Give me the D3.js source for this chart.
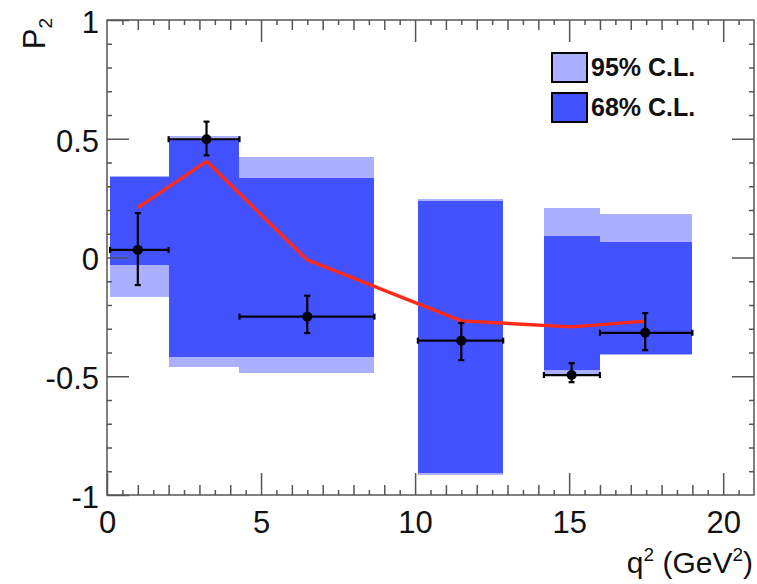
<!DOCTYPE html>
<html>
<head>
<meta charset="utf-8">
<script src="https://cdn.jsdelivr.net/npm/d3@7/dist/d3.min.js"></script>
<style>
  html, body { margin: 0; padding: 0; background: #fff; }
  svg { display: block; }
  .tick text { font-family: "Liberation Sans", Arial, sans-serif; }
</style>
</head>
<body>
<svg id="chart" width="757" height="584"></svg>
<script>
// q^2 bins (GeV^2)
const binLo = [0.1, 2.0, 4.3, 10.09, 14.18, 16.0];
const binHi = [2.0, 4.3, 8.68, 12.86, 16.0, 19.0];

// Confidence-level intervals on P2 per bin
const cl95Lo = [-0.165, -0.46, -0.488, -0.915, -0.495, -0.412];
const cl95Hi = [0.345, 0.51, 0.425, 0.245, 0.21, 0.183];
const cl68Lo = [-0.032, -0.42, -0.42, -0.908, -0.474, -0.405];
const cl68Hi = [0.34, 0.50, 0.335, 0.238, 0.09, 0.065];

// Measured points: mean q^2, central value and error-bar ends
const ptX = [1.0, 3.23, 6.5, 11.5, 15.08, 17.47];
const ptY = [0.032, 0.498, -0.249, -0.35, -0.495, -0.317];
const ptYHi = [0.187, 0.572, -0.161, -0.276, -0.445, -0.234];
const ptYLo = [-0.116, 0.43, -0.318, -0.432, -0.525, -0.39];

// Prediction curve evaluated at the point positions
const curveY = [0.21, 0.405, -0.01, -0.267, -0.292, -0.268];

// Axis ticks
const xMajor = [0, 5, 10, 15, 20];
const yMajor = [-1, -0.5, 0, 0.5, 1];
const yLabels = ["-1", "-0.5", "0", "0.5", "1"];

const legendItems = ["95% C.L.", "68% C.L."];

const dark = "#4352ff";
const light = "#aaafff";

const svg = d3.select("#chart");
const x = d3.scaleLinear().domain([0, 21]).range([107, 754]);
const y = d3.scaleLinear().domain([-1, 1]).range([495, 20]);

const bins = binLo.map((lo, i) => ({lo, hi: binHi[i],
  a95: cl95Lo[i], b95: cl95Hi[i], a68: cl68Lo[i], b68: cl68Hi[i]}));

// 95% bands then 68% bands on top
svg.append("g").attr("shape-rendering", "crispEdges").selectAll("rect").data(bins).join("rect")
  .attr("x", d => x(d.lo)).attr("width", d => x(d.hi) - x(d.lo))
  .attr("y", d => y(d.b95)).attr("height", d => y(d.a95) - y(d.b95))
  .attr("fill", light);
svg.append("g").attr("shape-rendering", "crispEdges").selectAll("rect").data(bins).join("rect")
  .attr("x", d => x(d.lo)).attr("width", d => x(d.hi) - x(d.lo))
  .attr("y", d => y(d.b68)).attr("height", d => y(d.a68) - y(d.b68))
  .attr("fill", dark);

// Prediction line
svg.append("path")
  .datum(ptX.map((v, i) => [v, curveY[i]]))
  .attr("fill", "none").attr("stroke", "#ff2a1a").attr("stroke-width", 3.4)
  .attr("stroke-linejoin", "round")
  .attr("d", d3.line().x(d => x(d[0])).y(d => y(d[1])));

// Axes: frame ticks on all four sides
const tickColor = "#555";
function styleAxis(g) {
  g.selectAll(".domain").remove();
  g.selectAll(".tick line").attr("stroke", tickColor).attr("stroke-width", 1.5);
}
const fmtNone = () => "";

// bottom
svg.append("g").attr("transform", "translate(0,495)")
  .call(d3.axisBottom(x).tickValues(d3.range(0.5, 21, 0.5).filter(v => v % 1 !== 0)).tickSize(-5).tickFormat(fmtNone)).call(styleAxis);
svg.append("g").attr("transform", "translate(0,495)")
  .call(d3.axisBottom(x).tickValues(d3.range(1, 21, 1).filter(v => v % 5 !== 0)).tickSize(-10).tickFormat(fmtNone)).call(styleAxis);
const xAx = svg.append("g").attr("transform", "translate(0,495)")
  .call(d3.axisBottom(x).tickValues(xMajor).tickSizeInner(-22).tickSizeOuter(0).tickPadding(16).tickFormat(d3.format("d")))
  .call(styleAxis);
xAx.selectAll(".tick text").attr("font-size", 31).attr("fill", "#111");

// top
svg.append("g").attr("transform", "translate(0,20)")
  .call(d3.axisTop(x).tickValues(d3.range(0.5, 21, 0.5).filter(v => v % 1 !== 0)).tickSize(-5).tickFormat(fmtNone)).call(styleAxis);
svg.append("g").attr("transform", "translate(0,20)")
  .call(d3.axisTop(x).tickValues(d3.range(1, 21, 1).filter(v => v % 5 !== 0)).tickSize(-10).tickFormat(fmtNone)).call(styleAxis);
svg.append("g").attr("transform", "translate(0,20)")
  .call(d3.axisTop(x).tickValues(xMajor.filter(v => v > 0)).tickSize(-22).tickFormat(fmtNone)).call(styleAxis);

// left
const yMinor = d3.range(-9, 10, 1).map(v => v / 10).filter(v => Math.abs(v * 2 % 1) > 1e-9);
svg.append("g").attr("transform", "translate(107,0)")
  .call(d3.axisLeft(y).tickValues(yMinor).tickSize(-5).tickFormat(fmtNone)).call(styleAxis);
const yAx = svg.append("g").attr("transform", "translate(107,0)")
  .call(d3.axisLeft(y).tickValues(yMajor).tickSizeInner(-22).tickSizeOuter(0).tickPadding(8)
    .tickFormat((d, i) => yLabels[i]))
  .call(styleAxis);
yAx.selectAll(".tick text").attr("font-size", 31).attr("fill", "#111").attr("dy", "0.4em").attr("x", -8);

// right
svg.append("g").attr("transform", "translate(754,0)")
  .call(d3.axisRight(y).tickValues(yMinor).tickSize(-5).tickFormat(fmtNone)).call(styleAxis);
svg.append("g").attr("transform", "translate(754,0)")
  .call(d3.axisRight(y).tickValues(yMajor.filter(v => Math.abs(v) < 1)).tickSize(-22).tickFormat(fmtNone)).call(styleAxis);

// frame
svg.append("rect").attr("x", x(0)).attr("y", y(1))
  .attr("width", x(21) - x(0)).attr("height", y(-1) - y(1))
  .attr("fill", "none").attr("stroke", tickColor).attr("stroke-width", 1.5);

// Data points with error bars and end caps
const pts = ptX.map((v, i) => ({x: v, y: ptY[i], hi: ptYHi[i], lo: ptYLo[i], xl: binLo[i], xh: binHi[i]}));
const pg = svg.append("g").attr("stroke", "#000").attr("stroke-width", 2.2);
const cap = 3;
pts.forEach(p => {
  pg.append("line").attr("x1", x(p.xl)).attr("x2", x(p.xh)).attr("y1", y(p.y)).attr("y2", y(p.y));
  pg.append("line").attr("x1", x(p.x)).attr("x2", x(p.x)).attr("y1", y(p.hi)).attr("y2", y(p.lo));
  [p.xl, p.xh].forEach(v => pg.append("line").attr("x1", x(v)).attr("x2", x(v)).attr("y1", y(p.y) - cap).attr("y2", y(p.y) + cap));
  [p.hi, p.lo].forEach(v => pg.append("line").attr("x1", x(p.x) - cap).attr("x2", x(p.x) + cap).attr("y1", y(v)).attr("y2", y(v)));
});
svg.append("g").selectAll("circle").data(pts).join("circle")
  .attr("cx", d => x(d.x)).attr("cy", d => y(d.y)).attr("r", 5).attr("fill", "#000");

// Axis titles
svg.append("text")
  .attr("x", 753).attr("y", 573).attr("text-anchor", "end")
  .attr("font-family", "Liberation Sans, Arial, sans-serif").attr("font-size", 30).attr("fill", "#111")
  .call(t => {
    t.append("tspan").text("q");
    t.append("tspan").attr("font-size", 19).attr("dy", -12).text("2");
    t.append("tspan").attr("dy", 12).text(" (GeV");
    t.append("tspan").attr("font-size", 19).attr("dy", -12).text("2");
    t.append("tspan").attr("dy", 12).text(")");
  });
svg.append("text")
  .attr("transform", "translate(45,18) rotate(-90)").attr("text-anchor", "end")
  .attr("font-family", "Liberation Sans, Arial, sans-serif").attr("font-size", 31).attr("fill", "#111")
  .call(t => {
    t.append("tspan").text("P");
    t.append("tspan").attr("font-size", 19).attr("dy", 7).text("2");
  });

// Legend
const lg = svg.append("g");
legendItems.forEach((label, i) => {
  const yy = 53 + i * 40;
  lg.append("rect").attr("x", 552).attr("y", yy).attr("width", 35).attr("height", 29)
    .attr("fill", i === 0 ? light : dark).attr("stroke", "#000").attr("stroke-width", 2);
  lg.append("text").attr("x", 591).attr("y", yy + 23)
    .attr("font-family", "Liberation Sans, Arial, sans-serif").attr("font-weight", "bold")
    .attr("font-size", 25).attr("fill", "#111").text(label);
});
</script>
</body>
</html>
